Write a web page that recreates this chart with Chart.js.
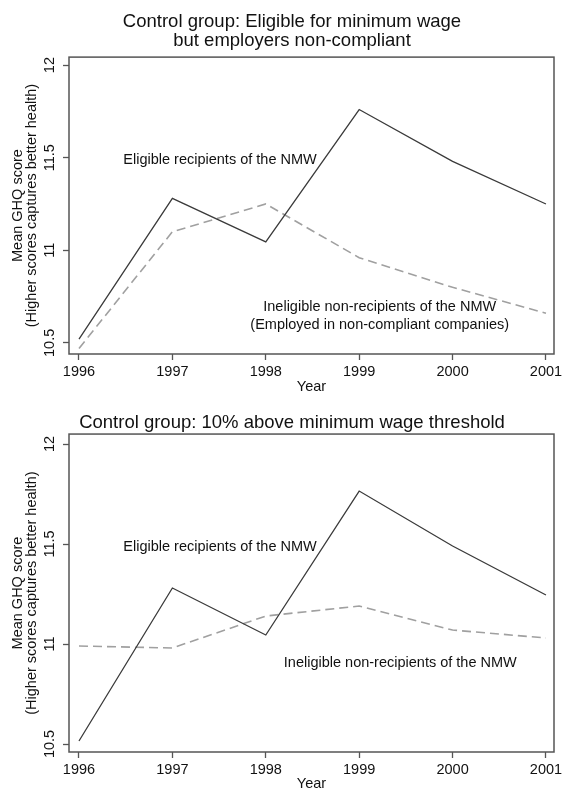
<!DOCTYPE html>
<html>
<head>
<meta charset="utf-8">
<script src="https://cdn.jsdelivr.net/npm/chart.js@4.4.1/dist/chart.umd.min.js"></script>
<style>
  html, body { margin: 0; padding: 0; background: #fff; }
  .box { position: absolute; left: 0; width: 562px; }
  #top { top: 0; height: 400px; }
  #bottom { top: 400px; height: 390px; }
</style>
</head>
<body>
<div class="box" id="top"><canvas id="c1"></canvas></div>
<div class="box" id="bottom"><canvas id="c2"></canvas></div>
<script>
// Datos
const years = [1996, 1997, 1998, 1999, 2000, 2001];
const yTicks = [10.5, 11, 11.5, 12];

// Panel superior: control = elegibles con empleador que no cumple
const eligibleTop = [10.52, 11.28, 11.045, 11.76, 11.48, 11.25];
const nonCompliant = [10.47, 11.10, 11.25, 10.96, 10.80, 10.66];

// Panel inferior: control = 10% por encima del umbral
const eligibleBottom = [10.515, 11.28, 11.045, 11.765, 11.49, 11.245];
const aboveThreshold = [10.99, 10.98, 11.14, 11.19, 11.07, 11.03];

const FONT = '"Liberation Sans", Arial, Helvetica, sans-serif';
const TEXT = '#111';
const AXIS = '#555';

// marco alrededor del area de la grafica
const framePlugin = {
  id: 'frame',
  afterDraw(chart) {
    const { ctx, chartArea: a } = chart;
    ctx.save();
    ctx.strokeStyle = AXIS;
    ctx.lineWidth = 1.5;
    ctx.strokeRect(a.left, a.top, a.right - a.left, a.bottom - a.top);
    ctx.restore();
  }
};

// etiquetas de texto dentro de la grafica
const notesPlugin = {
  id: 'notes',
  afterDatasetsDraw(chart, args, opts) {
    const { ctx, scales: { x, y } } = chart;
    ctx.save();
    ctx.font = '14.5px ' + FONT;
    ctx.fillStyle = TEXT;
    ctx.textAlign = 'center';
    ctx.textBaseline = 'middle';
    (opts.items || []).forEach(it => {
      const px = x.getPixelForValue(it.x);
      const py = y.getPixelForValue(it.y);
      it.text.forEach((t, i) => ctx.fillText(t, px, py + i * 18));
    });
    ctx.restore();
  }
};

function points(values) {
  return years.map((yr, i) => ({ x: yr, y: values[i] }));
}

function makeChart(id, title, solid, dashed, notes, g) {
  return new Chart(document.getElementById(id), {
    type: 'line',
    data: {
      datasets: [
        {
          data: points(solid),
          borderColor: '#3a3a3a',
          borderWidth: 1.3,
          pointRadius: 0,
          tension: 0
        },
        {
          data: points(dashed),
          borderColor: '#a0a0a0',
          borderWidth: 1.6,
          borderDash: [9, 5],
          pointRadius: 0,
          tension: 0
        }
      ]
    },
    plugins: [framePlugin, notesPlugin],
    options: {
      responsive: true,
      maintainAspectRatio: false,
      animation: false,
      layout: { padding: { left: 30, right: 8, top: 0, bottom: 0 } },
      plugins: {
        legend: { display: false },
        tooltip: { enabled: false },
        title: {
          display: true,
          text: title,
          color: TEXT,
          font: { family: FONT, size: 18.5, weight: 'normal', lineHeight: 1.03 },
          padding: g.titlePad
        },
        notes: { items: notes }
      },
      scales: {
        x: {
          type: 'linear',
          min: 1995.893,
          max: 2001.086,
          afterBuildTicks: s => { s.ticks = years.map(v => ({ value: v })); },
          afterFit: s => { s.height = g.xh; s.paddingLeft = 0; s.paddingRight = 0; },
          border: { display: false },
          grid: { drawOnChartArea: false, drawTicks: true, tickLength: 6, tickColor: AXIS, tickWidth: 1.3 },
          ticks: { color: TEXT, font: { family: FONT, size: 14.5 }, padding: g.tickPad, maxRotation: 0, callback: v => String(v) },
          title: {
            display: true,
            text: 'Year',
            color: TEXT,
            font: { family: FONT, size: 14.5 },
            padding: { top: 0, bottom: g.yearPad }
          }
        },
        y: {
          min: g.ymin,
          max: g.ymax,
          afterBuildTicks: s => { s.ticks = yTicks.map(v => ({ value: v })); },
          afterFit: s => { s.width = 39; s.paddingTop = 0; s.paddingBottom = 0; },
          border: { display: false },
          grid: { drawOnChartArea: false, drawTicks: true, tickLength: 6, tickColor: AXIS, tickWidth: 1.3 },
          ticks: {
            color: TEXT,
            font: { family: FONT, size: 14.5 },
            minRotation: 90,
            maxRotation: 90,
            crossAlign: 'center',
            padding: -1,
            callback: v => String(v)
          },
          title: {
            display: true,
            text: ['Mean GHQ score', '(Higher scores captures better health)'],
            color: TEXT,
            font: { family: FONT, size: 14.5, lineHeight: 1.0 },
            padding: { top: -19.5, bottom: 0 }
          }
        }
      }
    }
  });
}

makeChart('c1',
  ['Control group: Eligible for minimum wage', 'but employers non-compliant'],
  eligibleTop, nonCompliant,
  [
    { x: 1997.51, y: 11.49, text: ['Eligible recipients of the NMW'] },
    { x: 1999.22, y: 10.694, text: ['Ineligible non-recipients of the NMW', '(Employed in non-compliant companies)'] }
  ],
  { titlePad: { top: 12.5, bottom: 6.5 }, xh: 46, tickPad: 3.3, yearPad: 4.3, ymin: 10.44, ymax: 12.043 }
);

makeChart('c2',
  'Control group: 10% above minimum wage threshold',
  eligibleBottom, aboveThreshold,
  [
    { x: 1997.51, y: 11.485, text: ['Eligible recipients of the NMW'] },
    { x: 1999.44, y: 10.905, text: ['Ineligible non-recipients of the NMW'] }
  ],
  { titlePad: { top: 13.5, bottom: 1.5 }, xh: 38, tickPad: 3.3, yearPad: -2.7, ymin: 10.46, ymax: 12.05 }
);
</script>
</body>
</html>
